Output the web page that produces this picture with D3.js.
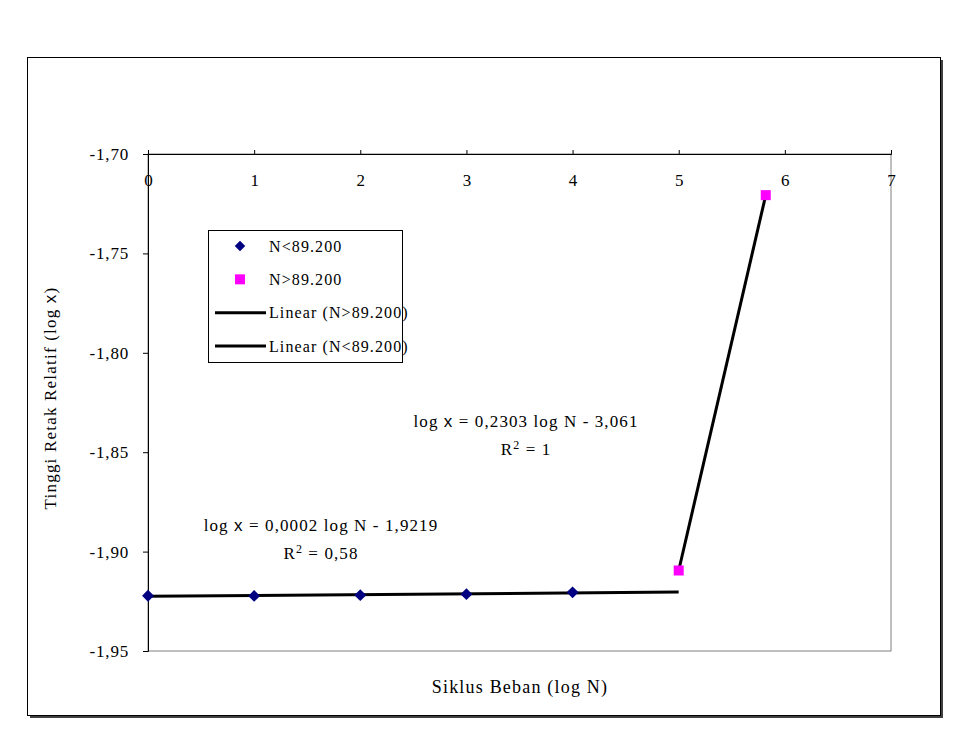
<!DOCTYPE html>
<html>
<head>
<meta charset="utf-8">
<script src="https://cdn.jsdelivr.net/npm/d3@7"></script>
<style>
  body { margin: 0; background: #fff; }
  svg text { font-family: "Liberation Serif", "Times New Roman", serif; fill: #000; }
</style>
</head>
<body>
<svg id="chart" width="961" height="739"></svg>
<script>
/* log N vs log x, two groups with linear trendlines */

const lowN = [0, 1, 2, 3, 4];
const lowX = [-1.9222, -1.9223, -1.9219, -1.9214, -1.9205];
const highN = [5.0, 5.82];
const highX = [-1.9095, -1.7207];

const xTicks = [0, 1, 2, 3, 4, 5, 6, 7];
const yTicks = [-1.70, -1.75, -1.80, -1.85, -1.90, -1.95];

const legendLabels = ['N<89.200', 'N>89.200', 'Linear (N>89.200)', 'Linear (N<89.200)'];
const eqHigh = ['0,2303', '3,061', '1'];
const eqLow = ['0,0002', '1,9219', '0,58'];

const FS = 17;
const LS = 1.1;

const svg = d3.select('#chart');

/* ── Frame ─────────────────────────────────────────────────── */

svg.append('rect')
  .attr('x', 30).attr('y', 60).attr('width', 913).attr('height', 658)
  .attr('fill', '#404040');
svg.append('rect')
  .attr('x', 27.5).attr('y', 57.5).attr('width', 913).attr('height', 658)
  .attr('fill', '#fff').attr('stroke', '#000');

const x = d3.scaleLinear().domain([0, 7]).range([148, 891]);
const y = d3.scaleLinear().domain([-1.95, -1.70]).range([651, 154]);

// plot area border (grey right/bottom)
svg.append('rect')
  .attr('x', x(0)).attr('y', y(-1.70))
  .attr('width', x(7) - x(0)).attr('height', y(-1.95) - y(-1.70))
  .attr('fill', 'none').attr('stroke', '#808080');

/* ── Axes ──────────────────────────────────────────────────── */

const fmt = d => d3.format('.2f')(d).replace('.', ',').replace('−', '-');

const yAxis = svg.append('g')
  .attr('transform', `translate(${x(0)},0)`)
  .call(d3.axisLeft(y).tickValues(yTicks).tickSize(5).tickPadding(14).tickFormat(fmt));
yAxis.select('.domain').attr('stroke', '#000');
yAxis.selectAll('text').attr('font-size', 17).attr('letter-spacing', 0.8)
  .attr('font-family', '"Liberation Serif", serif');

const xAxis = svg.append('g')
  .attr('transform', `translate(0,${y(-1.70)})`)
  .call(d3.axisTop(x).tickValues(xTicks).tickSize(4).tickFormat(d3.format('d')));
xAxis.select('.domain').attr('stroke', '#000');
xAxis.selectAll('text')
  .attr('font-size', 17)
  .attr('font-family', '"Liberation Serif", serif')
  .attr('y', 26).attr('dy', '0.35em');

/* ── Trendlines ────────────────────────────────────────────── */

function fit(xs, ys) {
  const mx = d3.mean(xs), my = d3.mean(ys);
  const sxy = d3.sum(xs, (v, i) => (v - mx) * (ys[i] - my));
  const sxx = d3.sum(xs, v => (v - mx) * (v - mx));
  const b = sxy / sxx;
  return { b, a: my - b * mx };
}

const fLow = fit(lowN, lowX);
const fHigh = fit(highN, highX);
const lowLine = [0, 5].map(n => [n, fLow.a + fLow.b * n]);
const highLine = highN.map(n => [n, fHigh.a + fHigh.b * n]);

const line = d3.line().x(d => x(d[0])).y(d => y(d[1]));
[lowLine, highLine].forEach(pts => {
  svg.append('path').attr('d', line(pts))
    .attr('fill', 'none').attr('stroke', '#000').attr('stroke-width', 3);
});

/* ── Points ────────────────────────────────────────────────── */

const diamond = d3.symbol().type(d3.symbolDiamond2).size(90);
svg.append('g').selectAll('path')
  .data(lowN.map((n, i) => [n, lowX[i]]))
  .join('path')
  .attr('d', diamond)
  .attr('transform', d => `translate(${x(d[0])},${y(d[1])})`)
  .attr('fill', '#000080');

svg.append('g').selectAll('rect')
  .data(highN.map((n, i) => [n, highX[i]]))
  .join('rect')
  .attr('x', d => x(d[0]) - 5).attr('y', d => y(d[1]) - 5)
  .attr('width', 10).attr('height', 10)
  .attr('fill', '#ff00ff');

/* ── Equations ─────────────────────────────────────────────── */

function equation(cx, cy, parts) {
  const t = svg.append('text').attr('x', cx).attr('y', cy)
    .attr('text-anchor', 'middle').attr('font-size', FS).attr('letter-spacing', LS);
  t.append('tspan').text('log ');
  t.append('tspan').attr('font-family', '"Liberation Sans", sans-serif').text('x');
  t.append('tspan').text(` = ${parts[0]} log N - ${parts[1]}`);
  const r = svg.append('text').attr('x', cx).attr('y', cy + 28)
    .attr('text-anchor', 'middle').attr('font-size', FS).attr('letter-spacing', LS);
  r.append('tspan').text('R');
  r.append('tspan').attr('font-size', 12).attr('dy', -6).text('2');
  r.append('tspan').attr('dy', 6).text(` = ${parts[2]}`);
}
equation(526, 427, eqHigh);
equation(321, 531, eqLow);

/* ── Legend ────────────────────────────────────────────────── */

const lg = svg.append('g');
lg.append('rect')
  .attr('x', 208.5).attr('y', 230.5).attr('width', 194).attr('height', 132)
  .attr('fill', '#fff').attr('stroke', '#000');

const rowY = d3.scalePoint().domain(legendLabels).range([246, 346]);
legendLabels.forEach((lab, i) => {
  const cy = rowY(lab);
  if (i === 0) {
    lg.append('path').attr('d', d3.symbol().type(d3.symbolDiamond2).size(70))
      .attr('transform', `translate(240,${cy})`).attr('fill', '#000080');
  } else if (i === 1) {
    lg.append('rect').attr('x', 235).attr('y', cy - 5).attr('width', 10).attr('height', 10)
      .attr('fill', '#ff00ff');
  } else {
    lg.append('line').attr('x1', 215).attr('x2', 266).attr('y1', cy).attr('y2', cy)
      .attr('stroke', '#000').attr('stroke-width', 3);
  }
  lg.append('text').attr('x', 269).attr('y', cy).attr('dy', '0.35em')
    .attr('font-size', 16).attr('letter-spacing', LS).text(lab);
});

/* ── Axis titles ───────────────────────────────────────────── */

const xt = svg.append('text').attr('x', 520).attr('y', 693)
  .attr('text-anchor', 'middle').attr('font-size', 18).attr('letter-spacing', 1.2);
xt.text('Siklus Beban (log N)');

const yt = svg.append('text')
  .attr('transform', 'translate(56,398) rotate(-90)')
  .attr('text-anchor', 'middle').attr('font-size', 17).attr('letter-spacing', 1.2);
yt.append('tspan').text('Tinggi Retak Relatif (log ');
yt.append('tspan').attr('font-family', '"Liberation Sans", sans-serif').text('x');
yt.append('tspan').text(')');
</script>
</body>
</html>
